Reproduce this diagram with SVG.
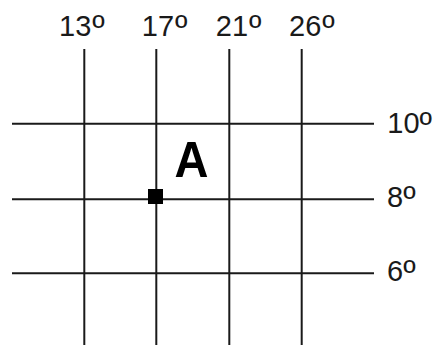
<svg xmlns="http://www.w3.org/2000/svg" width="434" height="345" viewBox="0 0 434 345">
<style>
.ln{stroke:#1a1a1a;stroke-width:2;fill:none}
.lbl{font-family:"Liberation Sans",Arial,sans-serif;font-size:29px;fill:#1a1a1a}
.deg{font-size:34px}
.big{font-family:"Liberation Sans",Arial,sans-serif;font-size:50px;font-weight:bold;fill:#000}
</style>
<rect width="434" height="345" fill="#fff"/>
<g id="connectors">
<line class="ln" x1="84.3" y1="49" x2="84.3" y2="345"/>
<line class="ln" x1="156.3" y1="49" x2="156.3" y2="345"/>
<line class="ln" x1="229.3" y1="49" x2="229.3" y2="345"/>
<line class="ln" x1="301.7" y1="49" x2="301.7" y2="345"/>
<line class="ln" x1="12" y1="123.7" x2="374" y2="123.7"/>
<line class="ln" x1="12" y1="199.3" x2="374" y2="199.3"/>
<line class="ln" x1="12" y1="273.3" x2="374" y2="273.3"/>
</g>
<g id="label-13"><text class="lbl" x="59.1" y="35.5">13<tspan class="deg" dx="1" dy="3">º</tspan></text></g>
<g id="label-17"><text class="lbl" x="141.8" y="35.5">17<tspan class="deg" dx="1" dy="3">º</tspan></text></g>
<g id="label-21"><text class="lbl" x="215.8" y="35.5">21<tspan class="deg" dx="1" dy="3">º</tspan></text></g>
<g id="label-26"><text class="lbl" x="289.1" y="35.5">26<tspan class="deg" dx="1" dy="3">º</tspan></text></g>
<g id="label-10"><text class="lbl" x="387.3" y="132.8">10<tspan class="deg" dy="3">º</tspan></text></g>
<g id="label-8"><text class="lbl" x="387.1" y="206.5">8<tspan class="deg" dy="3">º</tspan></text></g>
<g id="label-6"><text class="lbl" x="387.1" y="281">6<tspan class="deg" dy="3">º</tspan></text></g>
<g id="point-A">
<rect x="148" y="189" width="15" height="15" fill="#000"/>
<text class="big" transform="translate(191.5,177) scale(0.94,1)" text-anchor="middle">A</text>
</g>
</svg>
